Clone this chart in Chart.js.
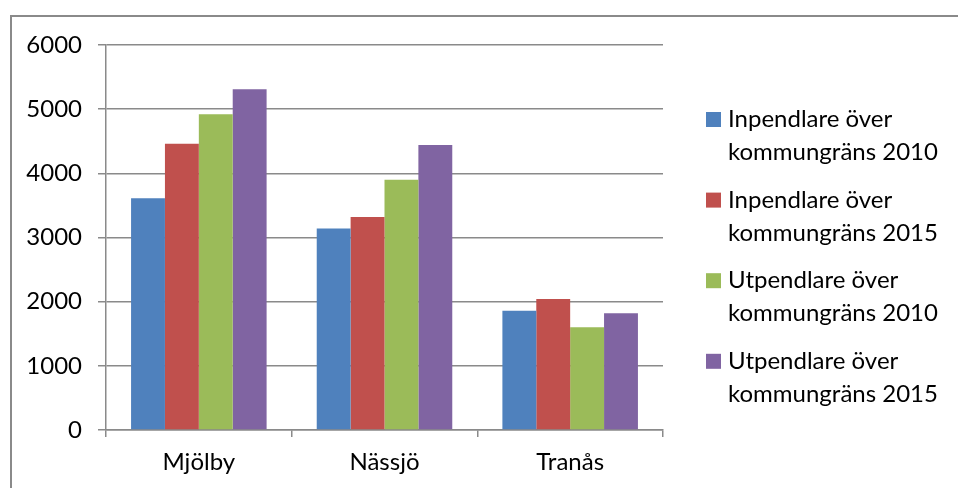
<!DOCTYPE html>
<html>
<head>
<meta charset="utf-8">
<script src="https://cdn.jsdelivr.net/npm/chart.js@4.4.1/dist/chart.umd.min.js"></script>
<style>
  html, body { margin: 0; padding: 0; background: #fff; }
  #wrap { position: relative; width: 958px; height: 488px; overflow: hidden; }
  #frame { position: absolute; left: 10px; top: 15px; width: 1200px; height: 800px;
           border-left: 2px solid #8a8a8a; border-top: 2px solid #8a8a8a; box-sizing: border-box; }
  canvas { position: absolute; left: 0; top: 0; }
</style>
</head>
<body>
<div id="wrap">
  <div id="frame"></div>
  <canvas id="c" width="958" height="488"></canvas>
</div>
<script>
// Kommuner
const categories = ['Mjölby', 'Nässjö', 'Tranås'];

// Pendlare över kommungräns
const inpendlare2010 = [3610, 3140, 1860];
const inpendlare2015 = [4460, 3320, 2040];
const utpendlare2010 = [4920, 3900, 1600];
const utpendlare2015 = [5310, 4440, 1820];

const seriesLabels = [
  ['Inpendlare över', 'kommungräns 2010'],
  ['Inpendlare över', 'kommungräns 2015'],
  ['Utpendlare över', 'kommungräns 2010'],
  ['Utpendlare över', 'kommungräns 2015']
];

const yTicks = [0, 1000, 2000, 3000, 4000, 5000, 6000];

const colors = ['#4F81BD', '#C0504D', '#9BBB59', '#8064A2'];
const gridColor = '#8a8a8a';
const FONT = 'Lato, "Open Sans", sans-serif';
const FONT_SIZE = 24;

const seriesData = [inpendlare2010, inpendlare2015, utpendlare2010, utpendlare2015];

// Two-line legend drawn to the right of the plot
const sideLegend = {
  id: 'sideLegend',
  afterDraw(chart) {
    const ctx = chart.ctx;
    ctx.save();
    ctx.font = FONT_SIZE + 'px ' + FONT;
    ctx.textBaseline = 'alphabetic';
    ctx.textAlign = 'left';
    chart.data.datasets.forEach((ds, i) => {
      const base = 127 + i * 80.6;
      ctx.fillStyle = ds.backgroundColor;
      ctx.fillRect(706, base - 15, 15, 15);
      ctx.fillStyle = '#000';
      ds.labelLines.forEach((line, j) => {
        ctx.fillText(line, 728, base + j * 33);
      });
    });
    ctx.restore();
  }
};

new Chart(document.getElementById('c'), {
  type: 'bar',
  data: {
    labels: categories,
    datasets: seriesData.map((d, i) => ({
      label: seriesLabels[i].join(' '),
      labelLines: seriesLabels[i],
      data: d,
      backgroundColor: colors[i],
      borderWidth: 0,
      barPercentage: 1,
      categoryPercentage: 0.73
    }))
  },
  options: {
    responsive: false,
    animation: false,
    layout: { padding: { left: 0, top: 45, right: 295, bottom: 0 } },
    plugins: {
      legend: { display: false },
      tooltip: { enabled: false }
    },
    scales: {
      x: {
        afterFit(scale) { scale.height = 58; },
        grid: {
          offset: true,
          drawOnChartArea: false,
          drawTicks: true,
          tickLength: 7,
          color: gridColor,
          lineWidth: 1.5
        },
        border: { color: gridColor, width: 1.5 },
        ticks: {
          color: '#000',
          font: { family: FONT, size: FONT_SIZE },
          padding: 11
        }
      },
      y: {
        min: 0,
        max: 6000,
        afterFit(scale) { scale.width = 106; },
        afterBuildTicks(scale) { scale.ticks = yTicks.map(v => ({ value: v })); },
        grid: {
          color: gridColor,
          lineWidth: 1.5,
          drawTicks: true,
          tickLength: 8
        },
        border: { color: gridColor, width: 1.5 },
        ticks: {
          color: '#000',
          font: { family: FONT, size: FONT_SIZE },
          padding: 16,
          callback: v => String(v)
        }
      }
    }
  },
  plugins: [sideLegend]
});
</script>
</body>
</html>
